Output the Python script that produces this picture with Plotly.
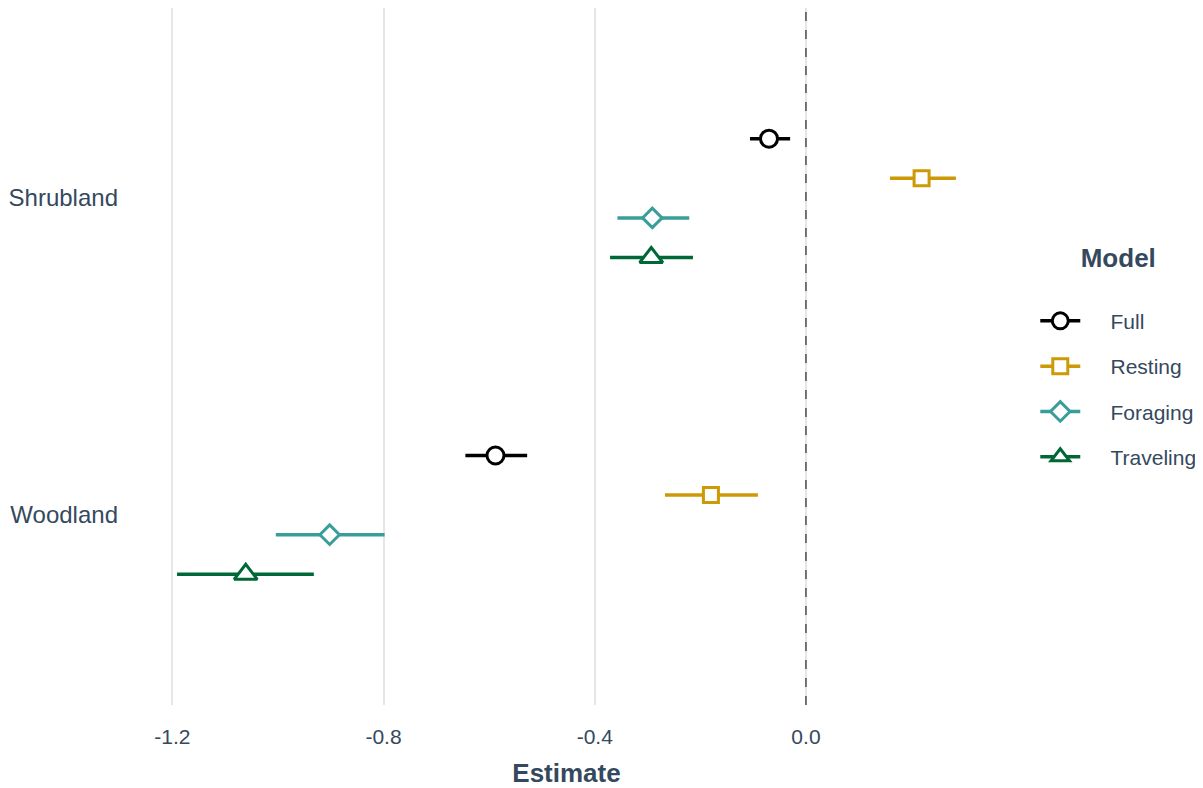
import plotly.graph_objects as go

habitats = ["Shrubland", "Woodland"]
models = ["Full", "Resting", "Foraging", "Traveling"]

estimate = {
    "Full":      [-0.070, -0.588],
    "Resting":   [0.219, -0.180],
    "Foraging":  [-0.291, -0.902],
    "Traveling": [-0.293, -1.061],
}
ci_low = {
    "Full":      [-0.106, -0.645],
    "Resting":   [0.159, -0.267],
    "Foraging":  [-0.357, -1.004],
    "Traveling": [-0.371, -1.191],
}
ci_high = {
    "Full":      [-0.030, -0.528],
    "Resting":   [0.284, -0.091],
    "Foraging":  [-0.221, -0.798],
    "Traveling": [-0.214, -0.932],
}
x_ticks = [-1.2, -0.8, -0.4, 0.0]

colors = {"Full": "#000000", "Resting": "#CC9A06", "Foraging": "#399E9A", "Traveling": "#006837"}
symbols = {"Full": "circle", "Resting": "square", "Foraging": "diamond", "Traveling": "triangle-up"}
sizes = {"Full": 17, "Resting": 15, "Foraging": 15, "Traveling": 20}

TEXT = "#34495E"
FONT = "Liberation Sans, Arial, sans-serif"

# habitat positions: first habitat on top
hab_pos = {h: len(habitats) - i for i, h in enumerate(habitats)}
dodge = 0.5
n = len(models)

fig = go.Figure()
for k, m in enumerate(models):
    off = dodge / n * ((n - 1) / 2 - k)
    ys = [hab_pos[h] + off for h in habitats]
    xs = estimate[m]
    plus = [hi - e for hi, e in zip(ci_high[m], xs)]
    minus = [e - lo for lo, e in zip(ci_low[m], xs)]
    fig.add_trace(go.Scatter(
        x=xs, y=ys, mode="markers", name=m, legendgroup=m, showlegend=False,
        error_x=dict(type="data", symmetric=False, array=plus, arrayminus=minus,
                     color=colors[m], thickness=3.5, width=0),
        marker=dict(symbol=symbols[m], size=sizes[m], color="white",
                    line=dict(color=colors[m], width=3)),
    ))
    fig.add_trace(go.Scatter(
        x=[None], y=[None], mode="lines+markers", name="\u2003\u2009" + m,
        legendgroup=m, showlegend=True,
        line=dict(color=colors[m], width=3.5),
        marker=dict(symbol=symbols[m], size=min(sizes[m], 16), color="white",
                    line=dict(color=colors[m], width=3)),
    ))

fig.add_vline(x=0, line=dict(color="black", width=1, dash="dash"))

fig.update_layout(
    width=1203, height=788,
    margin=dict(l=130, r=216, t=0, b=91),
    plot_bgcolor="white", paper_bgcolor="white",
    font=dict(family=FONT, color=TEXT, size=21),
    showlegend=True,
    legend=dict(
        title=dict(text="<b>Model</b><br> ", font=dict(size=26, color=TEXT), side="top center"),
        font=dict(size=21, color=TEXT),
        x=1.047, xanchor="left", y=0.502, yanchor="middle",
        traceorder="grouped", tracegroupgap=15, itemwidth=40,
        bgcolor="rgba(0,0,0,0)",
    ),
    xaxis=dict(
        range=[-1.265, 0.358], tickvals=x_ticks, ticktext=[f"{v:.1f}" for v in x_ticks],
        showgrid=True, gridcolor="#E6E6E6", gridwidth=2, zeroline=False,
        showline=False, ticks="", ticklabelstandoff=17,
        tickfont=dict(size=21, color=TEXT),
        title=dict(text="<b>Estimate</b>", font=dict(size=26, color=TEXT), standoff=16),
    ),
    yaxis=dict(
        range=[0.4, 2.6], tickvals=[hab_pos[h] for h in habitats], ticktext=habitats,
        showgrid=False, zeroline=False, showline=False, ticks="",
        ticklabelstandoff=19, tickfont=dict(size=24, color=TEXT),
    ),
)

fig.write_html("out.html")
